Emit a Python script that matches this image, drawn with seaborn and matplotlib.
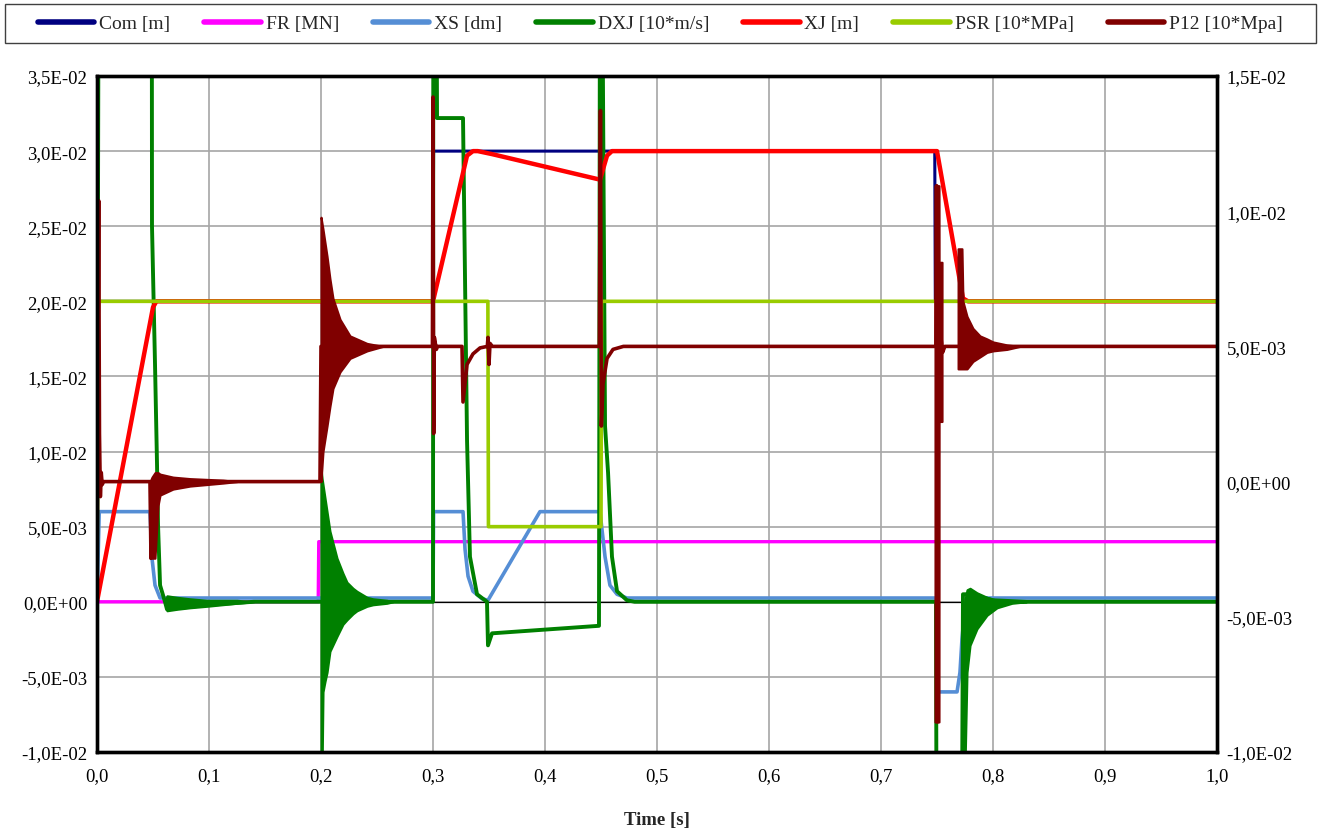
import matplotlib
matplotlib.use("Agg")
import matplotlib.pyplot as plt
from matplotlib.lines import Line2D
from matplotlib.patches import Rectangle
from matplotlib.ticker import MultipleLocator, FuncFormatter
import seaborn as sns

sns.set_theme(style="whitegrid")
plt.rcParams['font.family'] = ['Liberation Serif', 'DejaVu Serif']

# ---- series breakpoints (time [s], value) ----
com_t = [0.0, 0.0005, 0.3000, 0.3005, 0.7480, 0.7485, 1.0]
com_v = [0.0, 0.0200, 0.0200, 0.0300, 0.0300, 0.0200, 0.0200]

fr_t = [0.0, 0.1975, 0.1980, 1.0]
fr_v = [0.0, 0.0, 0.0040, 0.0040]

xs_t = [0.0, 0.0020, 0.0473, 0.0491, 0.0518, 0.0563, 0.3000, 0.3005, 0.3268, 0.3286,
        0.3313, 0.3357, 0.3438, 0.3491, 0.3955, 0.4491, 0.4536, 0.4580, 0.4643, 0.4732,
        0.7495, 0.7500, 0.7679, 0.7705, 0.7723, 0.7750, 0.7768, 1.0]
xs_v = [0.0, 0.0060, 0.0060, 0.0029, 0.0011, 0.00025, 0.00025, 0.0060, 0.0060, 0.0035,
        0.0017, 0.0007, 0.0002, 0.0001, 0.0060, 0.0060, 0.0030, 0.0011, 0.0005, 0.00025,
        0.00025, -0.0060, -0.0060, -0.0047, -0.0025, -0.0003, 0.00025, 0.00025]

dxj_t = [0.0, 0.0015, 0.0489, 0.0491, 0.0518, 0.0536, 0.0545, 0.0563, 0.0607, 0.0625,
         0.1000, 0.1400, 0.3000, 0.3003, 0.3030, 0.3036, 0.3268, 0.3304, 0.3330, 0.3393,
         0.3482, 0.3491, 0.3527, 0.4482, 0.4491, 0.4509, 0.4536, 0.4563, 0.4598, 0.4643,
         0.4732, 0.4800, 0.7491, 0.7500, 0.7714, 0.7732, 0.7800, 0.8000, 0.8300, 1.0]
dxj_v = [0.0, 0.0450, 0.0450, 0.0250, 0.0158, 0.0091, 0.0051, 0.0011, 0.0000, -0.0005,
         -0.0002, 0.0000, 0.0000, 0.0450, 0.0450, 0.0322, 0.0322, 0.0107, 0.0030, 0.0005,
         0.0000, -0.0029, -0.0021, -0.0016, 0.0450, 0.0450, 0.0117, 0.0086, 0.0030, 0.0007,
         0.0001, 0.0000, 0.0000, -0.0300, -0.0300, 0.0005, 0.0005, 0.0001, 0.0000, 0.0000]

xj_t = [0.0, 0.0500, 0.0530, 0.3000, 0.3304, 0.3357, 0.3400, 0.3527, 0.4491, 0.4554,
        0.4598, 0.7500, 0.7732, 0.7777, 1.0]
xj_v = [0.0, 0.0196, 0.0200, 0.0200, 0.0297, 0.0300, 0.0300, 0.0298, 0.0281, 0.0297,
        0.0300, 0.0300, 0.0202, 0.0200, 0.0200]

psr_t = [0.0, 0.0010, 0.3490, 0.3495, 0.4500, 0.4505, 1.0]
psr_v = [0.0, 0.0200, 0.0200, 0.0050, 0.0050, 0.0200, 0.0200]

p12_t = [0.0, 0.0015, 0.0022, 0.0030, 0.0038, 0.0046, 0.0060, 0.0473, 0.0482, 0.0500,
         0.1991, 0.2000, 0.2995, 0.3000, 0.3006, 0.3012, 0.3030, 0.3040, 0.3259, 0.3268,
         0.3304, 0.3357, 0.3420, 0.3485, 0.3491, 0.3500, 0.3509, 0.3530, 0.4485, 0.4495,
         0.4503, 0.4518, 0.4554, 0.4607, 0.4700, 0.7490, 0.7497, 0.7505, 0.7512, 0.7520,
         0.7535, 0.7550, 0.7570, 0.8330, 1.0]
p12_v = [0.0004, 0.0267, 0.0112, 0.0070, 0.0086, 0.0078, 0.0080, 0.0080, 0.0029, 0.0080,
         0.0080, 0.0170, 0.0170, 0.0336, 0.0112, 0.0176, 0.0168, 0.0170, 0.0170, 0.0133,
         0.0158, 0.0165, 0.0169, 0.0170, 0.0176, 0.0158, 0.0172, 0.0170, 0.0170, 0.0327,
         0.0117, 0.0145, 0.0162, 0.0168, 0.0170, 0.0170, 0.0277, -0.0080, 0.0225, 0.0120,
         0.0176, 0.0166, 0.0170, 0.0170, 0.0170]

# ringing envelopes (upper / lower edge of the oscillation bands)
p12_r1_t = [0.0473, 0.0491, 0.0518, 0.0545, 0.0563, 0.0679, 0.0830, 0.1125, 0.1250]
p12_r1_hi = [0.0080, 0.0083, 0.0086, 0.0086, 0.0085, 0.0083, 0.0082, 0.0081, 0.0080]
p12_r1_lo = [0.0029, 0.0029, 0.0029, 0.0064, 0.0071, 0.0075, 0.0077, 0.0079, 0.0080]

p12_r2_t = [0.2000, 0.2018, 0.2054, 0.2080, 0.2107, 0.2170, 0.2259, 0.2411, 0.2554]
p12_r2_hi = [0.0256, 0.0248, 0.0230, 0.0215, 0.0202, 0.0188, 0.0177, 0.0172, 0.0170]
p12_r2_lo = [0.0080, 0.0100, 0.0117, 0.0130, 0.0142, 0.0153, 0.0162, 0.0167, 0.0170]

p12_r3_t = [0.7688, 0.7723, 0.7732, 0.7768, 0.7821, 0.7884, 0.7946, 0.8000, 0.8125, 0.8241, 0.8330]
p12_r3_hi = [0.0235, 0.0235, 0.0200, 0.0190, 0.0182, 0.0177, 0.0175, 0.0173, 0.0171, 0.0170, 0.0170]
p12_r3_lo = [0.0155, 0.0155, 0.0155, 0.0155, 0.0160, 0.0163, 0.0166, 0.0167, 0.0168, 0.0170, 0.0170]

p12_r4_t = [0.7482, 0.7518, 0.7519, 0.7545]
p12_r4_hi = [0.0277, 0.0277, 0.0226, 0.0226]
p12_r4_lo = [-0.0080, -0.0080, 0.0120, 0.0120]

dxj_r1_t = [0.0607, 0.0625, 0.0714, 0.0830, 0.0982, 0.1250, 0.1400]
dxj_r1_hi = [0.0000, 0.0004, 0.0003, 0.0002, 0.0001, 0.0001, 0.0000]
dxj_r1_lo = [0.0000, -0.0006, -0.0005, -0.0004, -0.0003, -0.0001, 0.0000]

dxj_r2_t = [0.2000, 0.2010, 0.2018, 0.2036, 0.2054, 0.2080, 0.2143, 0.2196, 0.2232, 0.2286,
            0.2321, 0.2411, 0.2464, 0.2589, 0.2643]
dxj_r2_hi = [0.0089, 0.0082, 0.0078, 0.0069, 0.0060, 0.0047, 0.0029, 0.0019, 0.0013, 0.0009,
             0.0007, 0.0003, 0.0002, 0.0001, 0.0000]
dxj_r2_lo = [-0.0110, -0.0110, -0.0060, -0.0053, -0.0047, -0.0033, -0.0023, -0.0015, -0.0012,
             -0.0008, -0.0006, -0.0003, -0.0002, -0.0001, 0.0000]

dxj_r3_t = [0.7723, 0.7750, 0.7768, 0.7795, 0.7857, 0.7946, 0.8036, 0.8170, 0.8300]
dxj_r3_hi = [-0.0025, 0.0002, 0.0008, 0.0009, 0.0006, 0.0003, 0.0001, 0.0000, 0.0000]
dxj_r3_lo = [-0.0110, -0.0110, -0.0047, -0.0029, -0.0018, -0.0009, -0.0004, -0.0001, 0.0000]

labels = ["Com [m]", "FR [MN]", "XS [dm]", "DXJ [10*m/s]", "XJ [m]", "PSR [10*MPa]", "P12 [10*Mpa]"]
colors = ["#000080", "#FF00FF", "#558ED5", "#008000", "#FF0000", "#99CC00", "#800000"]


def sci_comma(v, pos):
    return f"{v:.1E}".replace(".", ",")


fig = plt.figure(figsize=(13.21, 8.29), dpi=100)
ax = fig.add_axes([97 / 1321, 1 - 753 / 829, 1120 / 1321, 676 / 829])

series = [(com_t, com_v, 2.2), (fr_t, fr_v, 2.4), (xs_t, xs_v, 2.6), (dxj_t, dxj_v, 2.8),
          (xj_t, xj_v, 3.2), (psr_t, psr_v, 2.6), (p12_t, p12_v, 2.6)]
bands = {3: [(dxj_r1_t, dxj_r1_hi, dxj_r1_lo), (dxj_r2_t, dxj_r2_hi, dxj_r2_lo),
             (dxj_r3_t, dxj_r3_hi, dxj_r3_lo)],
         6: [(p12_r1_t, p12_r1_hi, p12_r1_lo), (p12_r2_t, p12_r2_hi, p12_r2_lo),
             (p12_r3_t, p12_r3_hi, p12_r3_lo), (p12_r4_t, p12_r4_hi, p12_r4_lo)]}

ax.axhline(0, color="black", lw=0.9, zorder=1.5)
for i, (t, v, lw) in enumerate(series):
    sns.lineplot(x=t, y=v, ax=ax, color=colors[i], lw=lw, sort=False, estimator=None,
                 legend=False, zorder=2 + i)
    for bt, hi, lo in bands.get(i, []):
        ax.fill_between(bt, lo, hi, color=colors[i], lw=1.5, edgecolor=colors[i], zorder=2 + i)

ax.set_xlim(0, 1)
ax.set_ylim(-0.01, 0.035)
ax.xaxis.set_major_locator(MultipleLocator(0.1))
ax.yaxis.set_major_locator(MultipleLocator(0.005))
ax.xaxis.set_major_formatter(FuncFormatter(lambda v, p: f"{v:.1f}".replace(".", ",")))
ax.yaxis.set_major_formatter(FuncFormatter(sci_comma))
ax.grid(True, color="#A6A6A6", lw=1.2)
ax.tick_params(axis="both", length=0, labelsize=13.5, colors="black")
ax.tick_params(axis="x", pad=11)
ax.tick_params(axis="y", pad=7)
ax.set_xlabel("Time [s]", fontsize=13.5, fontweight="bold", labelpad=19)
ax.set_ylabel("")
for s in ax.spines.values():
    s.set_color("black")
    s.set_linewidth(2.4)
    s.set_zorder(20)

ax2 = ax.twinx()
ax2.set_ylim(-0.01, 0.015)
ax2.yaxis.set_major_locator(MultipleLocator(0.005))
ax2.yaxis.set_major_formatter(FuncFormatter(sci_comma))
ax2.grid(False)
ax2.tick_params(axis="y", length=0, labelsize=13.5, colors="black", pad=7)
for s in ax2.spines.values():
    s.set_color("black")
    s.set_linewidth(2.4)

# legend strip on top
fig.patches.append(Rectangle((5 / 1321, 1 - 44 / 829), 1311 / 1321, 39 / 829,
                             transform=fig.transFigure, fill=False, edgecolor="#404040", lw=1.0))
handles = [Line2D([0], [0], color=c, lw=4.0, solid_capstyle="round") for c in colors]
fig.legend(handles, labels, loc="center left", bbox_to_anchor=(38 / 1321, 1 - 24.5 / 829),
           ncol=7, frameon=False, fontsize=14, handlelength=2.9, handletextpad=0.25,
           columnspacing=1.75, borderpad=0, borderaxespad=0)

fig.savefig("out.png", dpi=100)
